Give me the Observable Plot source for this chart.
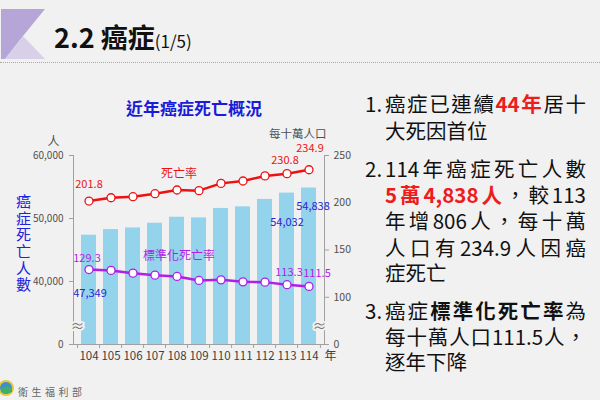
<!DOCTYPE html>
<html>
<head>
<meta charset="utf-8">
<script src="https://cdn.jsdelivr.net/npm/d3@7"></script>
<script src="https://cdn.jsdelivr.net/npm/@observablehq/plot@0.6"></script>
<style>
  html, body { margin: 0; padding: 0; }
  body { width: 600px; height: 400px; background: #f1f1f1; position: relative; overflow: hidden;
         font-family: "Noto Sans CJK TC", "Noto Sans", sans-serif; }
  .abs { position: absolute; white-space: nowrap; }
  #chart { position: absolute; left: 0; top: 70px; }
  .ln { position: absolute; left: 385px; width: 201px; height: 26px; line-height: 26px; font-size: 20.5px; color: #111; white-space: nowrap; }
  .ln.j { text-align: justify; text-align-last: justify; }
  .num { position: absolute; left: 365px; height: 26px; line-height: 26px; font-size: 20.5px; color: #111; }
  .red { color: #ee1c1c; font-weight: bold; }
  .b { font-weight: bold; }
  .vert { writing-mode: vertical-rl; text-orientation: upright; letter-spacing: 1.6px; }
</style>
</head>
<body>
<svg class="abs" style="left:0;top:0" width="60" height="70">
  <polygon points="1,9 45,9 23,36 5,59 1,59" fill="#b6a6d8"/>
  <polygon points="23,36 45,59 5,59" fill="#d8d0e8"/>
</svg>
<div class="abs" style="left:54px;top:19px;font-size:27px;font-weight:bold;color:#111;line-height:36px;">2.2 癌症<span style="font-size:17px;font-weight:normal;">(1/5)</span></div>
<div class="abs" style="left:0;top:62px;width:600px;border-top:1px dotted #a8a8a8;"></div>

<div class="abs" style="left:104px;top:96px;width:180px;text-align:center;font-size:17px;font-weight:bold;color:#1c1cd8;line-height:24px;">近年癌症死亡概況</div>
<div class="abs vert" style="left:14px;top:194px;width:18px;font-size:15px;line-height:18px;color:#2222dd;">癌症死亡人數</div>

<div id="chart"></div>

<div class="num" style="top:90px">1.</div>
<div class="ln j" style="top:90px">癌症已連續<span class="red">44年</span>居十</div>
<div class="ln" style="top:117px">大死因首位</div>
<div class="num" style="top:155px">2.</div>
<div class="ln j" style="top:155px">114年癌症死亡人數</div>
<div class="ln j" style="top:181px"><span class="red">5萬4,838人</span>，較113</div>
<div class="ln j" style="top:207px">年增806人，每十萬</div>
<div class="ln j" style="top:234px">人口有234.9人因癌</div>
<div class="ln" style="top:259px">症死亡</div>
<div class="num" style="top:297px">3.</div>
<div class="ln j" style="top:297px">癌症<span class="b">標準化死亡率</span>為</div>
<div class="ln j" style="top:323px">每十萬人口111.5人，</div>
<div class="ln" style="top:348px">逐年下降</div>

<svg class="abs" style="left:0;top:380px" width="16" height="18">
  <circle cx="6" cy="8" r="7" fill="#3b8fd0" stroke="#e6c640" stroke-width="2"/>
  <path d="M1,9 Q6,4 12,8 L12,12 Q6,15 1,12 Z" fill="#3fae6a"/>
</svg>
<div class="abs" style="left:18px;top:385px;font-size:10px;letter-spacing:3.5px;color:#666;line-height:14px;">衛生福利部</div>

<script>
const years = ["104","105","106","107","108","109","110","111","112","113","114"];
const deaths = [47349, 48240, 48500, 49250, 50200, 50100, 51600, 51850, 53030, 54032, 54838];
const crudeRate = [201.8, 205.3, 206.4, 209.6, 213.5, 212.8, 220.5, 223.0, 228.4, 230.8, 234.9];
const stdRate = [129.3, 128.4, 125.5, 123.4, 122.0, 117.8, 118.4, 116.3, 116.0, 113.3, 111.5];
const leftTicks = [30000, 40000, 50000, 60000];
const leftTickLabels = ["0", "40,000", "50,000", "60,000"];
const rightTicks = [50, 100, 150, 200, 250];
const rightTickLabels = ["0", "100", "150", "200", "250"];

const data = years.map((y, i) => ({year: y, deaths: deaths[i], crude: crudeRate[i], std: stdRate[i]}));
// right axis (per 100k, broken at 50) mapped onto left axis (persons, broken at 30000)
const toLeft = v => 30000 + (v - 50) * 150;
const leftMap = new Map(leftTicks.map((t, i) => [t, leftTickLabels[i]]));
const rightMap = new Map(rightTicks.map((t, i) => [toLeft(t), rightTickLabels[i]]));

const RED = "#ee1111", PURPLE = "#b01ee8", BLUE = "#2626d6", BAR = "#93d3ec", AX = "#a0a0a0", TXT = "#505050";
const W = 355, H = 305, ML = 73, MR = 31;
const step = (W - ML - MR) / years.length;
const FONT = '"Noto Sans CJK TC", "Noto Sans", sans-serif';

const row = y => data.find(d => d.year === y);
function valueLabel(year, field, color, dx, dy) {
  const d = row(year);
  const isDeath = field === "deaths";
  return Plot.text([d], {
    x: "year",
    y: isDeath ? "deaths" : r => toLeft(r[field]),
    text: r => isDeath ? d3.format(",")(r.deaths) : r[field].toFixed(1),
    fill: color, fontSize: 11, dx, dy
  });
}
function seriesLabel(year, field, name, color, dx, dy) {
  return Plot.text([row(year)], {x: "year", y: r => toLeft(r[field]), text: () => name, fill: color, fontSize: 12, dx, dy});
}

const chart = Plot.plot({
  width: W, height: H,
  marginLeft: ML, marginRight: MR, marginTop: 85, marginBottom: 31,
  style: {background: "transparent", fontFamily: FONT, overflow: "visible"},
  x: {type: "band", domain: years, paddingInner: 0.33, paddingOuter: 0.165, axis: null},
  y: {domain: [30000, 60000], axis: null},
  marks: [
    Plot.barY(data, {x: "year", y1: 30000, y2: "deaths", fill: BAR}),
    Plot.frame({anchor: "left", stroke: AX}),
    Plot.frame({anchor: "right", stroke: AX}),
    Plot.frame({anchor: "bottom", stroke: AX}),
    Plot.axisY(leftTicks, {anchor: "left", tickSize: 4, tickPadding: 6, stroke: AX, color: TXT, fontSize: 10, label: null, tickFormat: d => leftMap.get(d)}),
    Plot.axisY(rightTicks.map(toLeft), {anchor: "right", tickSize: 4, tickPadding: 5, stroke: AX, color: TXT, fontSize: 10.5, label: null, tickFormat: d => rightMap.get(d)}),
    Plot.axisX({tickSize: 0, tickPadding: 7, fontSize: 11.5, color: "#404040", label: null}),
    Plot.ruleX(years, {x: d => d, y1: 30000, y2: 30000, dx: -step / 2, insetBottom: -4, stroke: AX}),
    Plot.ruleX([years[years.length - 1]], {x: d => d, y1: 30000, y2: 30000, dx: step / 2, insetBottom: -4, stroke: AX}),
    Plot.text(["≈"], {frameAnchor: "bottom-left", dx: -3, dy: -14, fontSize: 14, fill: "#777", stroke: "#f1f1f1", strokeWidth: 4}),
    Plot.text(["≈"], {frameAnchor: "bottom-right", dx: 2, dy: -14, fontSize: 14, fill: "#777", stroke: "#f1f1f1", strokeWidth: 4}),
    Plot.text(["人"], {frameAnchor: "top-left", dx: -26, dy: -18, fontSize: 12, fill: TXT}),
    Plot.text(["每十萬人口"], {frameAnchor: "top-right", dx: 2, dy: -26, fontSize: 11.5, fill: TXT}),
    Plot.text(["年"], {frameAnchor: "bottom-right", dx: 12, dy: 15, fontSize: 12, fill: "#404040"}),
    Plot.line(data, {x: "year", y: d => toLeft(d.crude), stroke: RED, strokeWidth: 2.5}),
    Plot.dot(data, {x: "year", y: d => toLeft(d.crude), r: 4, fill: "white", stroke: RED, strokeWidth: 1.3}),
    Plot.line(data, {x: "year", y: d => toLeft(d.std), stroke: PURPLE, strokeWidth: 2.5}),
    Plot.dot(data, {x: "year", y: d => toLeft(d.std), r: 4, fill: "white", stroke: PURPLE, strokeWidth: 1.3}),
    valueLabel("104", "crude", RED, 0, -17),
    valueLabel("113", "crude", RED, -2, -13),
    valueLabel("114", "crude", RED, 1, -21),
    valueLabel("104", "std", PURPLE, -2, -11),
    valueLabel("113", "std", PURPLE, 2, -12),
    valueLabel("114", "std", PURPLE, 8, -13),
    valueLabel("104", "deaths", BLUE, 1, 58),
    valueLabel("113", "deaths", BLUE, 0, 29),
    valueLabel("114", "deaths", BLUE, 4, 18),
    seriesLabel("108", "crude", "死亡率", RED, 2, -16),
    seriesLabel("108", "std", "標準化死亡率", PURPLE, 2, -20)
  ]
});
document.getElementById("chart").appendChild(chart);
</script>
</body>
</html>
